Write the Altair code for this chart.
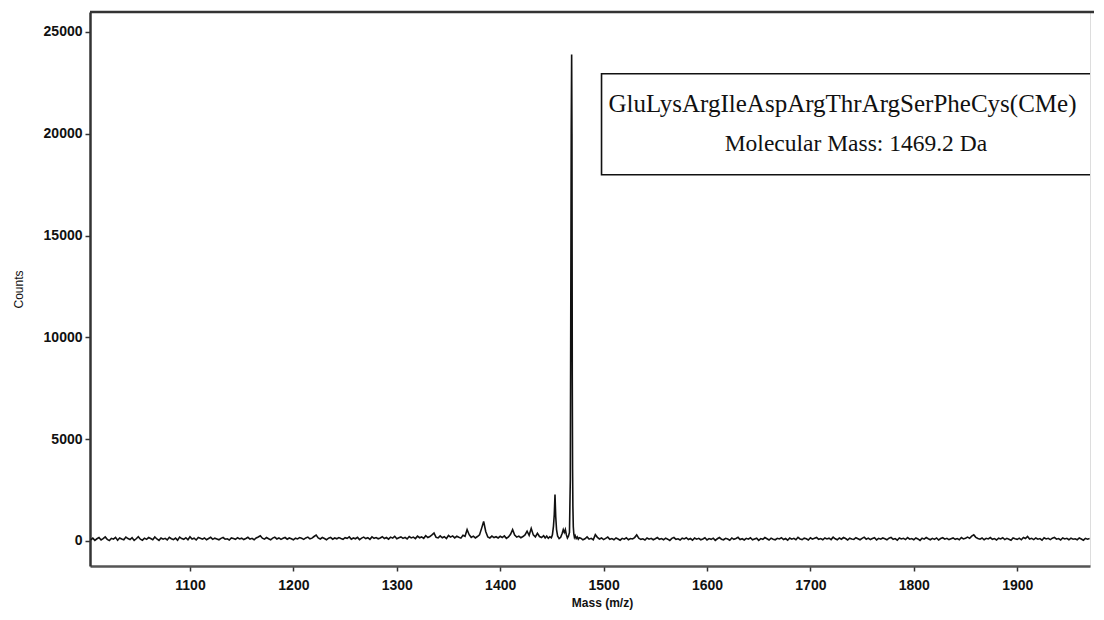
import altair as alt
import pandas as pd

# ---- data ----
# baseline segment A: sampled every 2 Da starting at 1004
base_a_start = 1004
base_a_step = 2
base_a_counts = [
    60, 140, 30, 110, 170, 50, 120, 200, 80, 20, 130, 90, 180, 40, 150, 100, 60, 190, 120, 70,
    160, 30, 110, 210, 90, 40, 140, 80, 170, 120, 60, 200, 100, 30, 150, 90, 130, 50, 180, 110,
    70, 140, 40, 190, 120, 80, 160, 60, 210, 100, 140, 50, 170, 130, 90, 150, 60, 120, 180, 80,
    140, 100, 60, 130, 170, 90, 110, 50, 150, 120, 80, 160, 100, 140, 70, 120, 180, 90, 130, 60,
    150, 200, 260, 140, 90, 170, 110, 60, 140, 190, 100, 150, 80, 130, 170, 90, 150, 110, 60, 140,
    100, 170, 130, 80, 150, 190, 110, 140, 220, 290, 150, 100, 170, 120, 60, 140, 180, 90, 150, 110,
    170, 120, 80, 160, 130, 200, 90, 150, 110, 180, 70, 140, 190, 120, 160, 80, 200, 130, 170, 110,
    150, 210, 120, 170, 90, 190, 140, 230, 110, 160, 200, 130, 180, 100, 220, 150, 190, 120, 240, 160,
    200, 130, 260, 170, 220, 300, 390, 180, 150, 250, 160, 210, 120, 270, 190, 250, 150, 230, 180, 140,
    280, 230, 560, 310, 180, 240, 150, 220, 300, 620, 960, 470, 200, 150, 240, 170, 210, 150, 230, 170,
    250, 130, 200, 330, 560, 290, 190, 240, 160, 220, 300, 480, 280, 620, 300, 200, 380, 220, 170, 260,
]

# peak cluster around the molecular ion
peak_mass = [1443.5, 1445, 1446.5, 1448, 1449.5, 1450.5, 1451.5, 1452.3, 1453, 1453.7,
             1454.5, 1455.5, 1457, 1458.5, 1460, 1461, 1462, 1463, 1464, 1465,
             1466, 1467, 1467.8, 1468.3, 1468.7, 1469.1, 1469.4, 1469.7, 1470.0, 1470.3,
             1470.7, 1471.2, 1471.8, 1472.5, 1473.5, 1474.5, 1475.5, 1476.5]
peak_counts = [150, 240, 130, 210, 160, 300, 720, 1300, 2280, 1200,
               560, 250, 120, 180, 380, 560, 420, 560, 300, 150,
               240, 420, 3000, 12100, 20100, 23900, 20000, 8200, 3500, 1700,
               700, 350, 180, 260, 120, 200, 90, 160]

# baseline segment B: sampled every 2 Da starting at 1478
base_b_start = 1478
base_b_step = 2
base_b_counts = [
    140, 60, 110, 200, 90, 130, 60, 310, 180, 100, 150, 70, 130, 190, 80, 120, 60, 150, 100, 40,
    130, 90, 160, 60, 120, 100, 170, 300, 140, 80, 110, 50, 150, 90, 130, 60, 110, 170, 80, 120,
    60, 140, 90, 30, 130, 170, 80, 110, 50, 140, 100, 160, 70, 120, 40, 150, 90, 130, 60, 100,
    160, 50, 120, 80, 140, 30, 110, 170, 90, 60, 130, 100, 40, 150, 80, 120, 180, 70, 110, 50,
    130, 90, 160, 60, 100, 140, 30, 120, 80, 170, 110, 50, 140, 90, 60, 130, 100, 160, 70, 120,
    40, 150, 90, 130, 60, 180, 100, 70, 140, 110, 50, 160, 90, 130, 170, 80, 120, 60, 150, 100,
    140, 70, 190, 110, 60, 150, 90, 170, 120, 50, 140, 100, 80, 160, 110, 60, 130, 190, 90, 140,
    70, 120, 160, 50, 130, 90, 150, 110, 60, 140, 180, 80, 120, 40, 150, 100, 130, 70, 170, 90,
    120, 60, 150, 100, 30, 140, 90, 170, 110, 60, 130, 80, 150, 50, 120, 160, 90, 130, 70, 110,
    150, 80, 120, 60, 170, 100, 140, 190, 130, 240, 300, 180, 120, 90, 150, 60, 130, 100, 170, 80,
    120, 50, 140, 100, 160, 70, 130, 90, 40, 150, 110, 80, 140, 60, 170, 120, 220, 100, 130, 70,
    150, 90, 120, 40, 160, 100, 130, 70, 140, 180, 90, 120, 50, 150, 100, 130, 60, 140, 90, 110,
    60, 150, 100, 40, 130, 90, 120,
]

x_ticks = [1100, 1200, 1300, 1400, 1500, 1600, 1700, 1800, 1900]
y_ticks = [0, 5000, 10000, 15000, 20000, 25000]
x_domain = [1003.3, 1970.4]
y_domain = [-1228, 25982]

label_line1 = "GluLysArgIleAspArgThrArgSerPheCys(CMe)"
label_line2 = "Molecular Mass: 1469.2 Da"
box_mass = [1498, 2000]
box_counts = [17985, 22950]
line1_pos = [1731, 21470]
line2_pos = [1744, 19510]

# ---- build table ----
mass = [base_a_start + base_a_step * i for i in range(len(base_a_counts))] + peak_mass + \
       [base_b_start + base_b_step * i for i in range(len(base_b_counts))]
counts = base_a_counts + peak_counts + base_b_counts
df = pd.DataFrame({"mass": mass, "counts": counts})

W, H = 1000, 554
AXFONT = "Liberation Sans"

xs = alt.Scale(domain=x_domain, nice=False, zero=False)
ys = alt.Scale(domain=y_domain, nice=False, zero=False)

line = alt.Chart(df).mark_line(color="#111111", strokeWidth=1.6, clip=True).encode(
    x=alt.X("mass:Q", scale=xs, axis=alt.Axis(
        values=x_ticks, title="Mass (m/z)", grid=False, format="d",
        labelFont=AXFONT, labelFontSize=14, labelFontWeight="bold", labelColor="#111",
        labelPadding=7, tickSize=5, tickWidth=1.5, tickColor="#333",
        domainWidth=2.5, domainColor="#555",
        titleFont=AXFONT, titleFontSize=12, titleFontWeight="bold", titleColor="#111",
        titleX=512, titleY=36, titleBaseline="middle")),
    y=alt.Y("counts:Q", scale=ys, axis=alt.Axis(
        values=y_ticks, title="Counts", grid=False, format="d",
        labelFont=AXFONT, labelFontSize=14, labelFontWeight="bold", labelColor="#111",
        labelPadding=3, tickSize=5, tickWidth=1.5, tickColor="#333",
        domainWidth=2.5, domainColor="#333",
        titleFont=AXFONT, titleFontSize=12, titleFontWeight="normal", titleColor="#111",
        titleX=-72, titleY=277, titleBaseline="middle")),
    order="mass:Q",
)

top_rule = alt.Chart(pd.DataFrame({"k": [0]})).mark_rule(color="#333", strokeWidth=2.5).encode(
    x=alt.value(0), x2=alt.value(W + 4), y=alt.value(0))

box_df = pd.DataFrame({"x": [box_mass[0]], "x2": [box_mass[1]], "y": [box_counts[0]], "y2": [box_counts[1]]})
box = alt.Chart(box_df).mark_rect(fill="white", stroke="#111", strokeWidth=1.6, clip=True).encode(
    x=alt.X("x:Q", scale=xs), x2="x2:Q", y=alt.Y("y:Q", scale=ys), y2="y2:Q")

t1_df = pd.DataFrame({"m": [line1_pos[0]], "c": [line1_pos[1]], "t": [label_line1]})
t2_df = pd.DataFrame({"m": [line2_pos[0]], "c": [line2_pos[1]], "t": [label_line2]})
txt1 = alt.Chart(t1_df).mark_text(font="Liberation Serif", fontSize=25, color="#111",
                                  align="center", baseline="middle").encode(
    x=alt.X("m:Q", scale=xs), y=alt.Y("c:Q", scale=ys), text="t:N")
txt2 = alt.Chart(t2_df).mark_text(font="Liberation Serif", fontSize=23.5, color="#111",
                                  align="center", baseline="middle").encode(
    x=alt.X("m:Q", scale=xs), y=alt.Y("c:Q", scale=ys), text="t:N")

chart = alt.layer(line, box, txt1, txt2, top_rule).properties(
    width=W, height=H,
    autosize=alt.AutoSizeParams(type="none"),
    padding={"left": 82, "top": 4, "right": 4, "bottom": 46},
).configure_view(stroke=None).configure(background="white")

chart.save("out.html", embed_options={"renderer": "svg", "actions": False})
